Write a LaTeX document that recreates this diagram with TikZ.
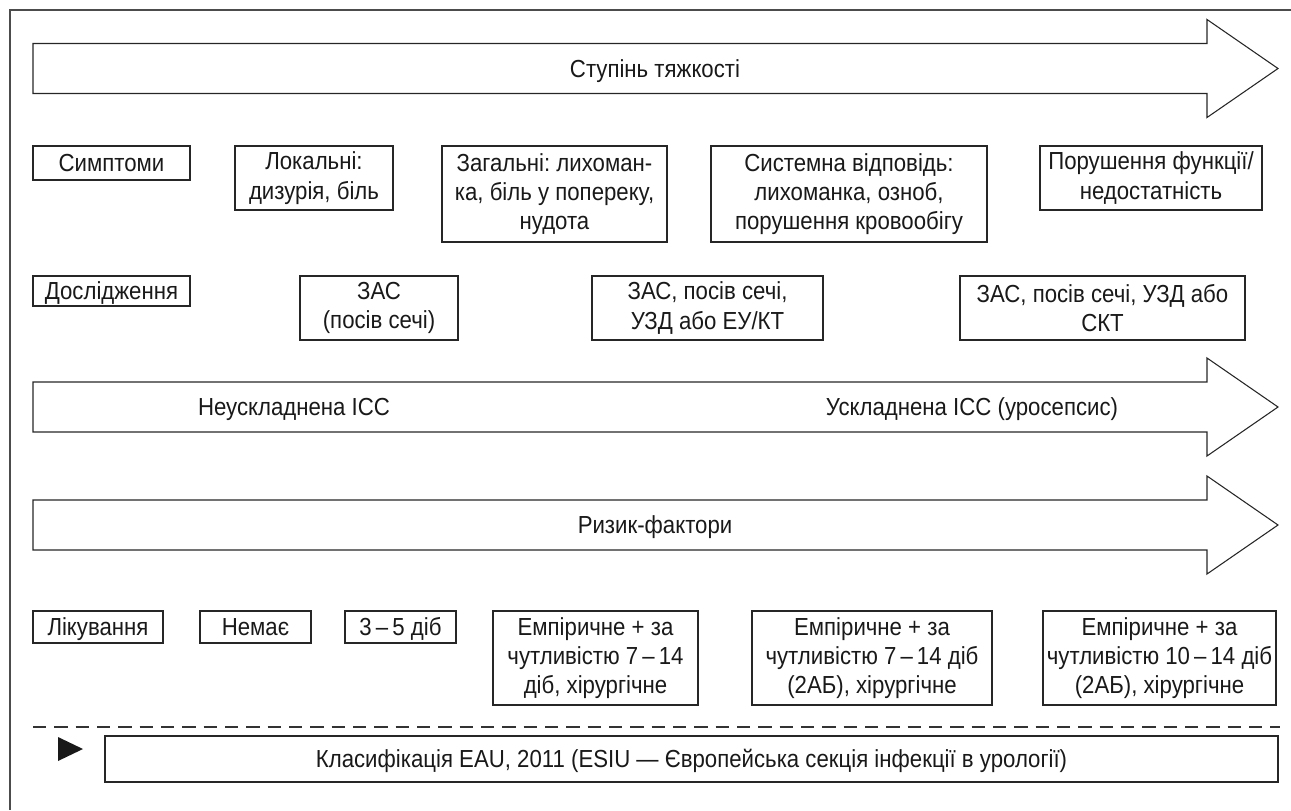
\documentclass[tikz,border=0pt]{standalone}
\usepackage{fontspec}
\setmainfont[FakeStretch=0.9]{Liberation Sans}
\frenchspacing
\newcommand\bx[6]{\node[box, minimum width={(#4-#2)*0.75pt}, minimum height={(#5-#3)*0.75pt}] (#1) at ({(#2+#4)/2},{(#3+#5)/2}) {#6};}
\newcommand\sbx[6]{\node[sbox, minimum width={(#4-#2)*0.75pt}, minimum height={(#5-#3)*0.75pt}] (#1) at ({(#2+#4)/2},{(#3+#5)/2}) {#6};}
\newcommand\bigarrow[1]{\draw[arrowline] (33,#1-25) -- (1207,#1-25) -- (1207,#1-49) -- (1278,#1) -- (1207,#1+49) -- (1207,#1+25) -- (33,#1+25) -- cycle;}
\begin{document}
\begin{tikzpicture}[x=0.75pt,y=-0.75pt,
  stxt/.style={font=\fontsize{18.5}{22}\selectfont\frenchspacing, text=black!90, inner sep=0pt, text height=12.5pt, text depth=0.5pt},
  txt/.style={font=\fontsize{18.5}{22}\selectfont\frenchspacing, text=black!90, align=center, inner sep=0pt},
  box/.style={txt, draw=black!85, line width=0.8pt},
  sbox/.style={stxt, draw=black!85, line width=0.8pt},
  arrowline/.style={draw=black!85, line width=0.8pt, line join=miter},
  frame/.style={draw=black!70, line width=1.1pt}]
\useasboundingbox (0,0) rectangle (1291,810);
\draw[frame] (10,810) -- (10,10) -- (1291,10);
% arrows
\bigarrow{68.5}
\node[stxt] (sev) at (655,69) {Ступінь тяжкості};
\bigarrow{407}
\node[stxt] (unc) at (294,407) {Неускладнена ІСС};
\node[stxt] (com) at (972,407) {Ускладнена ІСС (уросепсис)};
\bigarrow{525}
\node[stxt] (risk) at (655,525) {Ризик-фактори};
% row symptoms
\sbx{symp}{33}{146}{190}{180}{Симптоми}
\bx{lok}{235}{146}{393}{210}{Локальні:\\дизурія, біль}
\bx{zag}{442}{146}{667}{242}{Загальні: лихоман-\\ка, біль у поперекy,\\нудота}
\bx{sys}{711}{146}{987}{242}{Системна відповідь:\\лихоманка, озноб,\\порушення кровообігу}
\bx{por}{1040}{146}{1262}{210}{Порушення функції/\\недостатність}
% row investigations
\sbx{dos}{33}{276}{190}{306}{Дослідження}
\bx{zas1}{300}{276}{458}{340}{ЗАС\\(посів сечі)}
\bx{zas2}{592}{276}{823}{340}{ЗАС, посів сечі,\\УЗД або ЕУ/КТ}
\bx{zas3}{960}{276}{1245}{340}{ЗАС, посів сечі, УЗД або\\СКТ}
% row treatment
\sbx{lik}{33}{611}{163}{643}{Лікування}
\sbx{nem}{200}{611}{311}{643}{Немає}
\sbx{d35}{345}{611}{456}{643}{3\,–\,5 діб}
\bx{emp1}{493}{611}{698}{705}{Емпіричне + за\\чутливістю 7\,–\,14\\діб, хірургічне}
\bx{emp2}{752}{611}{992}{705}{Емпіричне + за\\чутливістю 7\,–\,14 діб\\(2АБ), хірургічне}
\bx{emp3}{1043}{611}{1276}{705}{Емпіричне + за\\чутливістю 10\,–\,14 діб\\(2АБ), хірургічне}
% bottom
\coordinate (dl) at (33,727);
\coordinate (dr) at (1280,727);
\draw[draw=black!80, line width=0.8pt, dash pattern=on 10pt off 6pt] (dl) -- (dr);
\fill[black!90] (58,737) -- (83,749) -- (58,761) -- cycle;
\sbx{eau}{105}{736}{1278}{782}{Класифікація EAU, 2011 (ESIU — Європейська секція інфекції в урології)}
\end{tikzpicture}
\end{document}
